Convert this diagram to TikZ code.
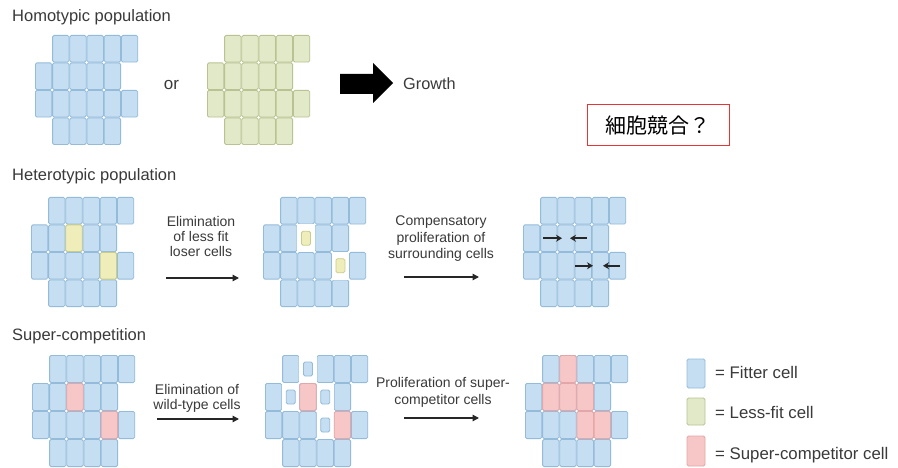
\documentclass[tikz,border=0pt]{standalone}
\usepackage{fontspec}
\setmainfont{Liberation Sans}
\newfontfamily\jpfont{Noto Sans CJK JP}
\usetikzlibrary{arrows.meta}

\definecolor{fitfill}{HTML}{C5DEF2}
\definecolor{fitline}{HTML}{94BBDA}
\definecolor{lessfill}{HTML}{E2E9C8}
\definecolor{lessline}{HTML}{B8C391}
\definecolor{loserfill}{HTML}{EFEDBA}
\definecolor{loserline}{HTML}{C9CD8C}
\definecolor{superfill}{HTML}{F7C6C6}
\definecolor{superline}{HTML}{E3A7A9}
\definecolor{ink}{HTML}{3A3A3A}
\definecolor{boxred}{HTML}{E53535}

% geometry of one epithelial cell
\newcommand\cellw{17.2}
\newcommand\cellh{27.5}

% one cell: style, column, row
\newcommand\cellbox[3]{%
  \path[#1] ({#2*\cellw+0.4},{#3*\cellh+0.4}) rectangle ({(#2+1)*\cellw-0.4},{(#3+1)*\cellh-0.4});}

% the usual four-row patch of tissue
\newcommand\tissue[1]{%
  \foreach \i in {1,...,5} {\cellbox{#1}{\i}{0}}
  \foreach \i in {0,...,4} {\cellbox{#1}{\i}{1}}
  \foreach \i in {0,...,5} {\cellbox{#1}{\i}{2}}
  \foreach \i in {1,...,4} {\cellbox{#1}{\i}{3}}}

% an emptied slot holding a shrinking cell: style, column, row
\newcommand\emptyslot[3]{%
  \fill[white] ({#2*\cellw},{#3*\cellh}) rectangle ({(#2+1)*\cellw},{(#3+1)*\cellh});
  \path[#1] ({(#2+0.5)*\cellw-4.5},{(#3+0.5)*\cellh-7}) rectangle ({(#2+0.5)*\cellw+4.5},{(#3+0.5)*\cellh+7});}

\tikzset{
  cellbase/.style={line width=0.8pt, rounded corners=1.5pt},
  fitter/.style={cellbase, fill=fitfill, draw=fitline},
  lessfit/.style={cellbase, fill=lessfill, draw=lessline},
  loser/.style={cellbase, fill=loserfill, draw=loserline},
  super/.style={cellbase, fill=superfill, draw=superline},
  heading/.style={font=\fontsize{16.5}{19}\selectfont, inner sep=0pt, anchor=base west},
  steplabel/.style={font=\fontsize{14}{15}\selectfont, align=center, inner sep=0pt, anchor=north},
  legendtext/.style={font=\fontsize{16.8}{19}\selectfont, inner sep=0pt, anchor=base west},
  flow/.style={-{Triangle[length=6.5pt,width=6.5pt]}, line width=1.3pt, draw=black!85},
  push/.style={-{Stealth[length=6pt,width=7pt]}, line width=1.7pt, draw=black!85}
}

\begin{document}
\begin{tikzpicture}[x=1pt, y=-1pt, text=ink]
\useasboundingbox (0,0) rectangle (898,468);
\fill[white] (0,0) rectangle (898,468);

% ---------- homotypic population ----------
\node[heading] (homo) at (12,21.5) {Homotypic population};
\begin{scope}[shift={(35,35)}]
  \tissue{fitter}
\end{scope}
\node[font=\fontsize{17}{19}\selectfont, inner sep=0pt, anchor=base] (or) at (171.5,90) {or};
\begin{scope}[shift={(207,35)}]
  \tissue{lessfit}
\end{scope}
\fill[black] (340,74) -- (373,74) -- (373,63) -- (393,83) -- (373,103) -- (373,94) -- (340,94) -- cycle;
\node[font=\fontsize{16.3}{18}\selectfont, inner sep=0pt, anchor=base west] (growth) at (403,90) {Growth};

\node[draw=boxred, line width=1pt, minimum width=142pt, minimum height=41pt, inner sep=0pt,
      text=black, font=\jpfont\fontsize{21}{24}\selectfont] (question) at (658,125.5) {細胞競合？};

% ---------- heterotypic population ----------
\node[heading] (hetero) at (12,180.5) {Heterotypic population};
\begin{scope}[shift={(31,197)}]
  \tissue{fitter}
  \cellbox{loser}{2}{1}
  \cellbox{loser}{4}{2}
\end{scope}
\node[steplabel] (elim) at (201,216) {Elimination\\of less fit\\loser cells};
\coordinate (a1s) at (166,278);
\coordinate (a1e) at (239,278);
\draw[flow] (a1s) -- (a1e);

\begin{scope}[shift={(263,197)}]
  \tissue{fitter}
  \emptyslot{loser}{2}{1}
  \emptyslot{loser}{4}{2}
\end{scope}
\node[steplabel, font=\fontsize{14}{16.5}\selectfont] (comp) at (441,216) {Compensatory\\proliferation of\\surrounding cells};
\coordinate (a2s) at (404,277);
\coordinate (a2e) at (479,277);
\draw[flow] (a2s) -- (a2e);

\begin{scope}[shift={(523,197)}]
  \tissue{fitter}
  \coordinate (p1s) at (20,41.25);  \coordinate (p1e) at (39,41.25);
  \coordinate (p2s) at (64,41.25);  \coordinate (p2e) at (47,41.25);
  \coordinate (p3s) at (52,68.75);  \coordinate (p3e) at (70,68.75);
  \coordinate (p4s) at (97,68.75);  \coordinate (p4e) at (80,68.75);
  \draw[push] (p1s) -- (p1e);
  \draw[push] (p2s) -- (p2e);
  \draw[push] (p3s) -- (p3e);
  \draw[push] (p4s) -- (p4e);
\end{scope}

% ---------- super-competition ----------
\renewcommand\cellh{28}
\node[heading] (supercomp) at (12,340.5) {Super-competition};
\begin{scope}[shift={(32,355)}]
  \tissue{fitter}
  \cellbox{super}{2}{1}
  \cellbox{super}{4}{2}
\end{scope}
\node[steplabel, font=\fontsize{14}{15.5}\selectfont] (elimwt) at (197,384) {Elimination of\\wild-type cells};
\coordinate (a3s) at (157,419);
\coordinate (a3e) at (239,419);
\draw[flow] (a3s) -- (a3e);

\begin{scope}[shift={(265,355)}]
  \tissue{fitter}
  \emptyslot{fitter}{2}{0}
  \emptyslot{fitter}{1}{1}
  \emptyslot{fitter}{3}{1}
  \emptyslot{fitter}{3}{2}
  \cellbox{super}{2}{1}
  \cellbox{super}{4}{2}
\end{scope}
\node[steplabel, font=\fontsize{14}{17}\selectfont] (prolif) at (443,377) {Proliferation of super-\\competitor cells};
\coordinate (a4s) at (404,418);
\coordinate (a4e) at (479,418);
\draw[flow] (a4s) -- (a4e);

\begin{scope}[shift={(525,355)}]
  \tissue{fitter}
  \cellbox{super}{2}{0}
  \cellbox{super}{1}{1}
  \cellbox{super}{2}{1}
  \cellbox{super}{3}{1}
  \cellbox{super}{3}{2}
  \cellbox{super}{4}{2}
\end{scope}

% ---------- legend ----------
\path[fitter]  (687,359) rectangle (705,388);
\path[lessfit] (687,398) rectangle (705,425);
\path[super]   (687,436) rectangle (705,466);
\node[legendtext] (lfit)   at (715,378) {= Fitter cell};
\node[legendtext] (lless)  at (715,418) {= Less-fit cell};
\node[legendtext] (lsuper) at (715,459) {= Super-competitor cell};
\end{tikzpicture}
\end{document}
